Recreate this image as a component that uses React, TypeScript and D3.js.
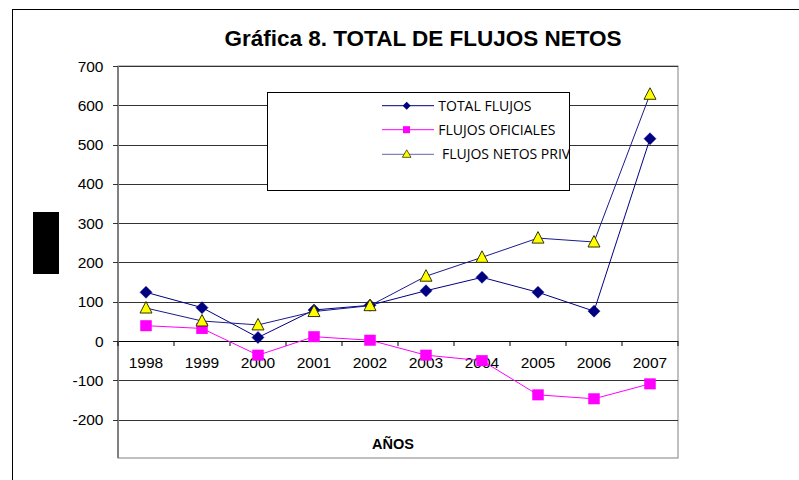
import React from "react";
import * as d3 from "d3";

const years = ["1998", "1999", "2000", "2001", "2002", "2003", "2004", "2005", "2006", "2007"];
const totalFlujos = [124, 85, 9, 79, 91, 128, 162, 124, 76, 515];
const flujosOficiales = [39, 32, -36, 11, 2, -36, -50, -137, -147, -109];
const flujosNetosPriv = [84, 51, 41, 75, 90, 165, 213, 262, 252, 628];
const yTicks = [-200, -100, 0, 100, 200, 300, 400, 500, 600, 700];
const legendLabels = ["TOTAL FLUJOS", "FLUJOS OFICIALES", " FLUJOS NETOS PRIV"];

const W = 799;
const H = 480;
const left = 118;
const right = 678;
const top = 66;
const bottom = 458;

export default function App() {
  const x = d3.scaleBand<string>().domain(years).range([left, right]);
  const y = d3.scaleLinear().domain([-200, 700]).range([419.6, 66]);
  const cx = (d: string) => (x(d) as number) + x.bandwidth() / 2;
  const line = d3
    .line<number>()
    .x((_, i) => cx(years[i]))
    .y((v) => y(v));
  const y0 = y(0);

  const diamond = (px: number, py: number, key: string) => (
    <path key={key} d={`M${px},${py - 6}L${px + 6},${py}L${px},${py + 6}L${px - 6},${py}Z`} fill="#000080" stroke="#000080" strokeWidth={0.5} />
  );
  const square = (px: number, py: number, key: string) => (
    <rect key={key} x={px - 5.75} y={py - 5.5} width={11.5} height={11} fill="#FF00FF" />
  );
  const triangle = (px: number, py: number, key: string) => (
    <path key={key} d={`M${px},${py - 6.5}L${px + 6},${py + 5}L${px - 6},${py + 5}Z`} fill="#FFFF00" stroke="#333300" strokeWidth={1} />
  );

  return (
    <svg width={W} height={H} style={{ position: "absolute", left: 0, top: 0 }} fontFamily="Arial, 'Liberation Sans', sans-serif">
      <rect x={0} y={0} width={W} height={H} fill="#fff" />
      <rect x={12.5} y={9.5} width={820} height={520} fill="none" stroke="#000" strokeWidth={1} />
      <text x={423} y={46} textAnchor="middle" fontSize={22.5} fontWeight="bold" fill="#000">
        Gráfica 8. TOTAL DE FLUJOS NETOS
      </text>
      <rect x={33} y={212} width={26} height={62} fill="#000" />

      {/* plot area frame */}
      <rect x={left} y={top} width={right - left} height={bottom - top} fill="#fff" stroke="#808080" strokeWidth={1} />
      {/* gridlines */}
      {yTicks.map((t) => (
        <line key={"g" + t} x1={left} x2={right} y1={Math.round(y(t)) + 0.5} y2={Math.round(y(t)) + 0.5} stroke={t === 0 ? "#000" : "#333"} strokeWidth={1} />
      ))}
      {/* y axis */}
      <line x1={left} x2={left} y1={top} y2={bottom} stroke="#808080" strokeWidth={2} />
      {yTicks.map((t) => (
        <g key={"yt" + t}>
          <line x1={113} x2={left} y1={Math.round(y(t)) + 0.5} y2={Math.round(y(t)) + 0.5} stroke="#333" />
          <text x={103.5} y={y(t) + 5.5} textAnchor="end" fontSize={15.5} fill="#000">
            {t}
          </text>
        </g>
      ))}
      {/* x ticks */}
      {years.map((yr, i) => (
        <line key={"xt" + yr} x1={left + i * x.step()} x2={left + i * x.step()} y1={y0} y2={y0 + 5} stroke="#000" />
      ))}
      <line x1={right} x2={right} y1={y0} y2={y0 + 5} stroke="#000" />
      {years.map((yr) => (
        <text key={"xl" + yr} x={cx(yr)} y={368} textAnchor="middle" fontSize={15.5} fill="#000">
          {yr}
        </text>
      ))}
      <text x={393} y={448.5} textAnchor="middle" fontSize={14.5} fontWeight="bold" fill="#000">
        AÑOS
      </text>

      {/* series */}
      <path d={line(totalFlujos) as string} fill="none" stroke="#000080" strokeWidth={1} />
      {totalFlujos.map((v, i) => diamond(cx(years[i]), y(v), "d" + i))}
      <path d={line(flujosOficiales) as string} fill="none" stroke="#FF00FF" strokeWidth={1} />
      {flujosOficiales.map((v, i) => square(cx(years[i]), y(v), "s" + i))}
      <path d={line(flujosNetosPriv) as string} fill="none" stroke="#1a1a8c" strokeWidth={1} />
      {flujosNetosPriv.map((v, i) => triangle(cx(years[i]), y(v), "t" + i))}

      {/* legend */}
      <rect x={267.5} y={92.5} width={302} height={98} fill="#fff" stroke="#000" strokeWidth={1} />
      {legendLabels.map((lab, i) => {
        const ly = [105.7, 129.7, 154.3][i];
        const color = ["#000080", "#FF00FF", "#6666aa"][i];
        const mk = i === 0 ? (
          <path d={`M406.7,${ly - 4}L${410.7},${ly}L406.7,${ly + 4}L402.7,${ly}Z`} fill="#000080" />
        ) : i === 1 ? (
          <rect x={403} y={ly - 3.5} width={7} height={7} fill="#FF00FF" />
        ) : (
          <path d={`M406.7,${ly - 4.5}L${411},${ly + 3}L${402.4},${ly + 3}Z`} fill="#FFFF00" stroke="#333300" strokeWidth={0.8} />
        );
        return (
          <g key={"lg" + i}>
            <line x1={382} x2={434} y1={ly} y2={ly} stroke={color} strokeWidth={1} />
            {mk}
            <text x={438.3} y={ly + 5} fontSize={14} fontFamily="'Open Sans', sans-serif" fill="#000" style={{ whiteSpace: "pre" }} xmlSpace="preserve">
              {lab}
            </text>
          </g>
        );
      })}
    </svg>
  );
}
